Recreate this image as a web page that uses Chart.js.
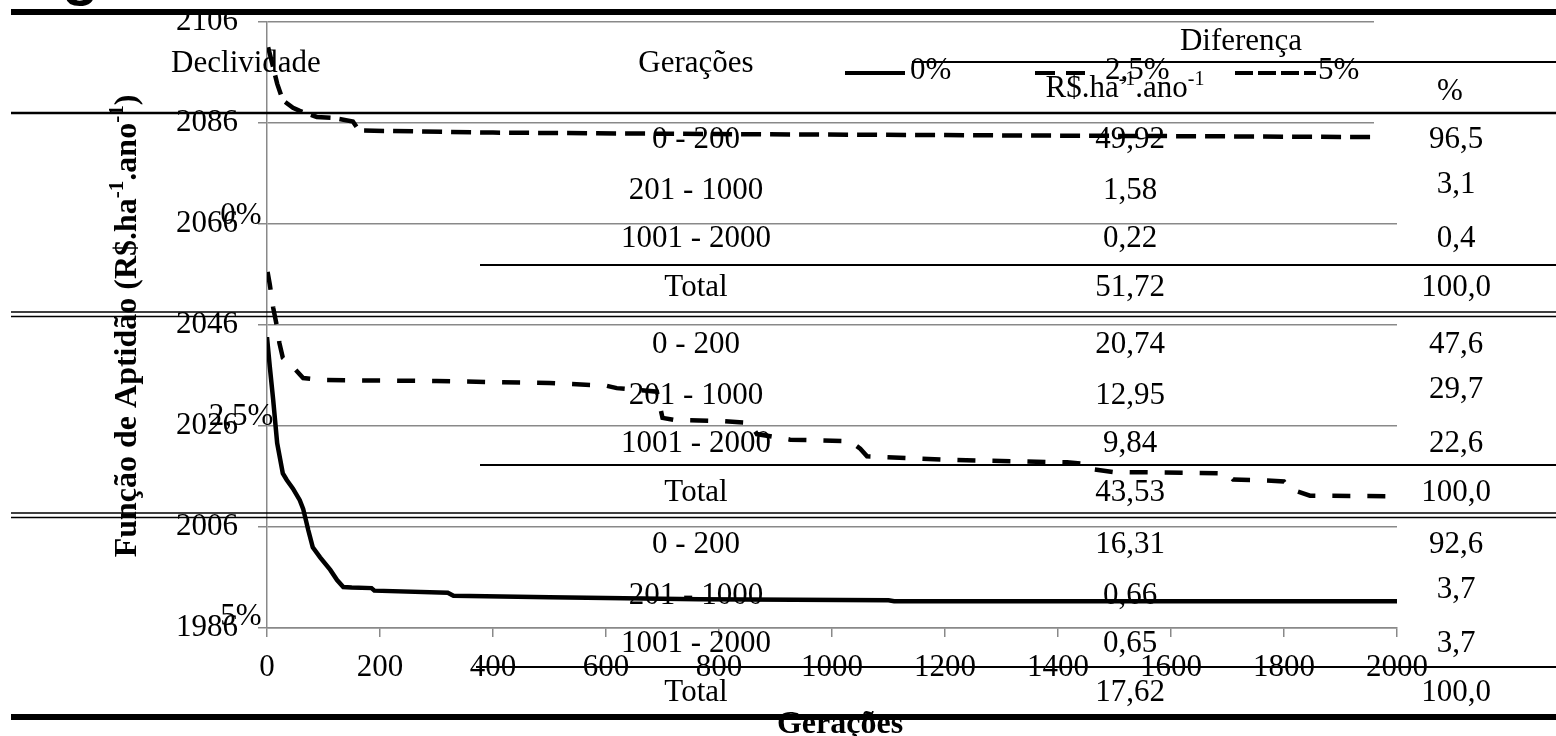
<!DOCTYPE html>
<html>
<head>
<meta charset="utf-8">
<script src="https://cdn.jsdelivr.net/npm/chart.js@4/dist/chart.umd.min.js"></script>
<style>
  html, body { margin: 0; padding: 0; background: #fff; }
  canvas { display: block; }
</style>
</head>
<body>
<canvas id="aptidao" width="1556" height="736"></canvas>
<script>
// series: generations (x) and fitness value (y)
const serieNomes = ['0%', '2,5%', '5%'];

const geracoes0 = [0, 5, 11, 18, 28, 35, 46, 58, 64, 73, 81, 94, 112, 124, 135, 150, 185, 190, 320, 330, 500, 765, 1100, 1110, 2000];
const aptidao0 = [2043.6, 2037.7, 2031.1, 2022.6, 2016.6, 2015.3, 2013.6, 2011.3, 2009.6, 2005.4, 2002.0, 2000.0, 1997.5, 1995.5, 1994.1, 1994.0, 1993.9, 1993.4, 1993.0, 1992.4, 1992.1, 1991.7, 1991.5, 1991.3, 1991.3];

const geracoes25 = [1, 5, 11, 18, 22, 28, 40, 46, 64, 97, 300, 500, 600, 619, 690, 700, 720, 800, 855, 867, 926, 1032, 1050, 1062, 1209, 1416, 1450, 1457, 1497, 1651, 1700, 1710, 1770, 1800, 1811, 1846, 2000];
const aptidao25 = [2056.5, 2054, 2049.4, 2045.5, 2042.4, 2039.5, 2038.3, 2037.7, 2035.5, 2035.1, 2034.9, 2034.5, 2034.0, 2033.5, 2032.8, 2027.6, 2027.2, 2027.0, 2026.6, 2024.4, 2023.3, 2023.0, 2021.5, 2020.0, 2019.3, 2018.8, 2018.5, 2017.5, 2016.9, 2016.7, 2016.6, 2015.4, 2015.2, 2015.0, 2013.5, 2012.2, 2012.1];

const geracoes5 = [2, 11, 18, 28, 46, 58, 88, 117, 152, 160, 168, 400, 800, 1200, 1600, 2000];
const aptidao5 = [2101.0, 2097.0, 2093.8, 2090.5, 2089.0, 2088.4, 2087.2, 2087.0, 2086.3, 2085.0, 2084.5, 2084.1, 2083.8, 2083.6, 2083.4, 2083.2];

const xMin = 0, xMax = 2000, xStep = 200;
const yMin = 1986, yMax = 2106, yStep = 20;

// table printed over the figure
const declividades = ['0%', '2,5%', '5%'];
const faixas = ['0 - 200', '201 - 1000', '1001 - 2000', 'Total'];
const difReais = [
  ['49,92', '1,58', '0,22', '51,72'],
  ['20,74', '12,95', '9,84', '43,53'],
  ['16,31', '0,66', '0,65', '17,62']
];
const difPct = [
  ['96,5', '3,1', '0,4', '100,0'],
  ['47,6', '29,7', '22,6', '100,0'],
  ['92,6', '3,7', '3,7', '100,0']
];

const serif = '"Liberation Serif", "Times New Roman", serif';
const gray = '#898989';

function pts(xs, ys) {
  return xs.map((x, i) => ({x: x, y: ys[i]}));
}

function runsWidth(ctx, runs) {
  let w = 0;
  runs.forEach(r => {
    ctx.font = (r.bold ? 'bold ' : '') + r.size + 'px ' + serif;
    w += ctx.measureText(r.t).width;
  });
  return w;
}

function drawRuns(ctx, runs, cx, cy) {
  let x = cx - runsWidth(ctx, runs) / 2;
  ctx.textAlign = 'left';
  ctx.textBaseline = 'middle';
  runs.forEach(r => {
    ctx.font = (r.bold ? 'bold ' : '') + r.size + 'px ' + serif;
    ctx.fillText(r.t, x, cy + (r.dy || 0));
    x += ctx.measureText(r.t).width;
  });
}

function hline(ctx, x1, x2, y, w) {
  ctx.beginPath();
  ctx.lineWidth = w;
  ctx.moveTo(x1, y);
  ctx.lineTo(x2, y);
  ctx.stroke();
}

function text(ctx, t, x, y, align) {
  ctx.font = '31px ' + serif;
  ctx.textAlign = align || 'center';
  ctx.textBaseline = 'middle';
  ctx.fillText(t, x, y);
}

const tabela = {
  id: 'tabela',
  afterDraw(chart) {
    const ctx = chart.ctx;
    ctx.save();
    ctx.fillStyle = '#000';
    ctx.strokeStyle = '#000';

    // white cell behind the % column header
    ctx.fillStyle = '#fff';
    ctx.fillRect(1374, 16, 182, 128);
    ctx.fillStyle = '#000';

    // caption remnant above the table
    ctx.font = 'bold 60px "Liberation Sans", Arial, sans-serif';
    ctx.textAlign = 'left';
    ctx.textBaseline = 'alphabetic';
    ctx.fillText('g', 62, -6);

    // axis titles
    ctx.save();
    ctx.translate(128, 326);
    ctx.rotate(-Math.PI / 2);
    drawRuns(ctx, [
      {t: 'Função de Aptidão (R$.ha', size: 32, bold: true},
      {t: '-1', size: 21, bold: true, dy: -10},
      {t: '.ano', size: 32, bold: true},
      {t: '-1', size: 21, bold: true, dy: -10},
      {t: ')', size: 32, bold: true}
    ], 0, 0);
    ctx.restore();
    ctx.font = 'bold 32px ' + serif;
    ctx.textAlign = 'center';
    ctx.textBaseline = 'alphabetic';
    ctx.fillText('Gerações', 840, 733);

    // legend
    const leg = [
      {x1: 845, x2: 905, tx: 910, dash: []},
      {x1: 1035, x2: 1085, tx: 1105, dash: [20, 11]},
      {x1: 1235, x2: 1316, tx: 1318, dash: [18, 5]}
    ];
    leg.forEach((l, i) => {
      ctx.save();
      ctx.setLineDash(l.dash);
      hline(ctx, l.x1, l.x2, 73, 4);
      ctx.restore();
      text(ctx, serieNomes[i], l.tx, 71, 'left');
    });

    // header
    text(ctx, 'Declividade', 246, 64);
    text(ctx, 'Gerações', 696, 64);
    text(ctx, 'Diferença', 1241, 42);
    drawRuns(ctx, [
      {t: 'R$.ha', size: 31},
      {t: '-1', size: 20, dy: -9},
      {t: '.ano', size: 31},
      {t: '-1', size: 20, dy: -9}
    ], 1125, 89);
    text(ctx, '%', 1450, 92);

    // body
    const grupoY = [140, 345, 545];
    const linhaOff = [0, 51, 99, 148];
    const rotuloOff = [76, 72, 72];
    declividades.forEach((d, g) => {
      text(ctx, d, 241, grupoY[g] + rotuloOff[g]);
      faixas.forEach((f, r) => {
        const y = grupoY[g] + linhaOff[r];
        text(ctx, f, 696, y);
        text(ctx, difReais[g][r], 1130, y);
        text(ctx, difPct[g][r], 1456, y - (r === 1 ? 6 : 0));
      });
    });

    // rules
    hline(ctx, 11, 1556, 12, 6);
    hline(ctx, 912, 1556, 62, 2);
    hline(ctx, 11, 1556, 113, 2.5);
    hline(ctx, 480, 1556, 265, 2);
    hline(ctx, 11, 1556, 312, 1.5);
    hline(ctx, 11, 1556, 316.5, 1.5);
    hline(ctx, 480, 1556, 465, 2);
    hline(ctx, 11, 1556, 513, 1.5);
    hline(ctx, 11, 1556, 517.5, 1.5);
    hline(ctx, 476, 1556, 667, 2);
    hline(ctx, 11, 1556, 717, 6);

    ctx.restore();
  }
};

const ctx = document.getElementById('aptidao');

new Chart(ctx, {
  type: 'line',
  data: {
    datasets: [
      {
        label: serieNomes[0],
        data: pts(geracoes0, aptidao0),
        borderColor: '#000',
        borderWidth: 4.5,
        pointRadius: 0,
        tension: 0
      },
      {
        label: serieNomes[1],
        data: pts(geracoes25, aptidao25),
        borderColor: '#000',
        borderWidth: 4.5,
        borderDash: [18, 17],
        pointRadius: 0,
        tension: 0
      },
      {
        label: serieNomes[2],
        data: pts(geracoes5, aptidao5),
        borderColor: '#000',
        borderWidth: 4.5,
        borderDash: [20, 9],
        pointRadius: 0,
        tension: 0
      }
    ]
  },
  options: {
    responsive: false,
    animation: false,
    devicePixelRatio: 1,
    layout: {
      padding: {top: 22, right: 159, left: 0, bottom: 0}
    },
    plugins: {
      legend: {display: false},
      tooltip: {enabled: false}
    },
    scales: {
      x: {
        type: 'linear',
        min: xMin,
        max: xMax,
        afterFit: s => { s.height = 108; },
        grid: {drawOnChartArea: false, tickLength: 9, color: gray, lineWidth: 1.5},
        border: {color: gray, width: 1.5},
        ticks: {
          stepSize: xStep,
          padding: 12,
          color: '#000',
          font: {family: serif, size: 31},
          maxRotation: 0,
          autoSkip: false,
          callback: v => String(v)
        }
      },
      y: {
        type: 'linear',
        min: yMin,
        max: yMax,
        afterFit: s => { s.width = 267; s.paddingTop = 0; s.paddingBottom = 0; },
        grid: {tickLength: 9, color: gray, lineWidth: 1.5},
        border: {color: gray, width: 1.5},
        ticks: {
          stepSize: yStep,
          padding: 20,
          color: '#000',
          font: {family: serif, size: 31},
          callback: v => String(v)
        }
      }
    }
  },
  plugins: [tabela]
});
</script>
</body>
</html>
